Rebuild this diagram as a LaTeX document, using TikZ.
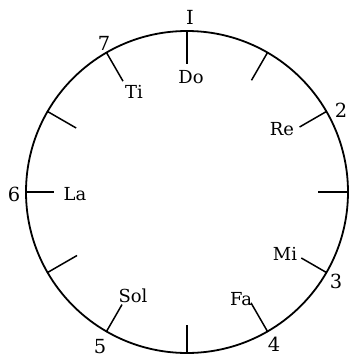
\documentclass[tikz,border=0pt]{standalone}
\usepackage{fontspec}
\setmainfont{DejaVu Serif}
\begin{document}
\begin{tikzpicture}[x=1bp,y=1bp,
  rim/.style={line width=1.8bp},
  tickline/.style={line width=1.5bp},
  lab/.style={font=\fontsize{18}{21}\selectfont, inner sep=0pt},
  num/.style={font=\fontsize{19.5}{23}\selectfont, inner sep=0pt}]
\useasboundingbox (-187,-166) rectangle (162,192);
\coordinate (C) at (0,0);
\draw[rim] (C) circle[radius=161];
\foreach \a/\l in {0/30,30/31,60/32,90/33,120/33,150/33,180/28,210/34,240/31,270/28,300/33,330/29} {
  \coordinate (o\a) at (\a:161);
  \pgfmathsetmacro{\r}{161-\l}
  \coordinate (i\a) at (\a:\r);
  \draw[tickline] (o\a) -- (i\a);
}
% outer numbers
\node[num] (n1) at (3,175) {I};
\node[num] (n2) at (154,82) {2};
\node[num] (n3) at (149,-89) {3};
\node[num] (n4) at (87,-152) {4};
\node[num] (n5) at (-87,-155) {5};
\node[num] (n6) at (-173,-2) {6};
\node[num] (n7) at (-83,149) {7};
% inner syllables
\node[lab] (do) at (4,115) {Do};
\node[lab] (re) at (95,63) {Re};
\node[lab] (mi) at (98,-62) {Mi};
\node[lab] (fa) at (54,-107) {Fa};
\node[lab] (sol) at (-54,-104) {Sol};
\node[lab] (la) at (-112,-2) {La};
\node[lab] (ti) at (-53,100) {Ti};
\end{tikzpicture}
\end{document}
